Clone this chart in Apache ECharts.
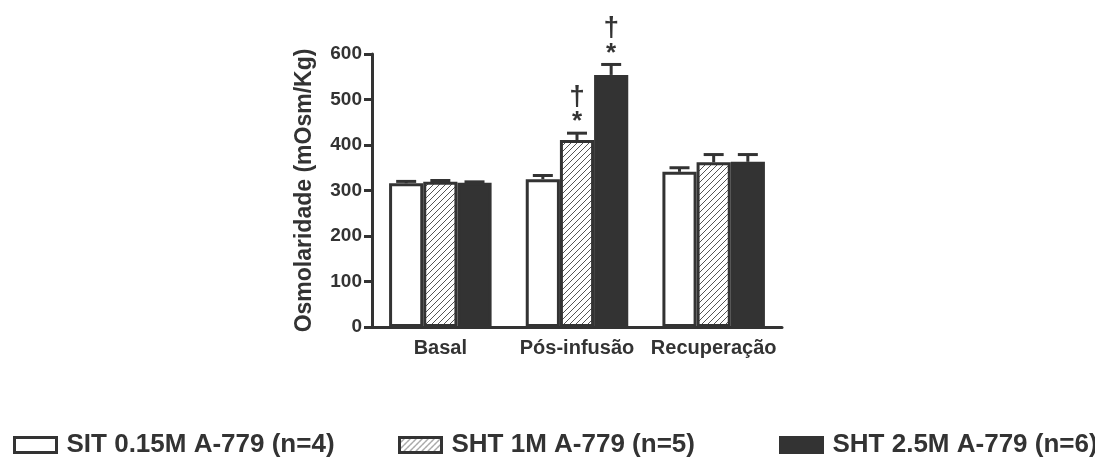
<!DOCTYPE html>
<html>
<head>
<meta charset="utf-8">
<script src="https://cdn.jsdelivr.net/npm/echarts@6/dist/echarts.min.js"></script>
<style>
  html, body { margin: 0; padding: 0; background: #fff; }
  #chart { width: 1095px; height: 457px; }
</style>
</head>
<body>
<div id="chart"></div>
<script>
// Osmolality per phase, mean and SEM for each infusion group
const categories = ['Basal', 'Pós-infusão', 'Recuperação'];
const seriesNames = ['SIT 0.15M A-779 (n=4)', 'SHT 1M A-779 (n=5)', 'SHT 2.5M A-779 (n=6)'];
const sitMean = [316, 325, 341];
const sitSem = [4, 8, 9];
const sht1Mean = [319, 411, 362];
const sht1Sem = [3, 15, 17];
const sht25Mean = [317, 554, 363];
const sht25Sem = [2, 23, 16];
// significance marks drawn above the error bars ('*' then '†' going up)
const sitMarks = ['', '', ''];
const sht1Marks = ['', '*†', ''];
const sht25Marks = ['', '*†', ''];
const yTicks = [0, 100, 200, 300, 400, 500, 600];

const INK = '#333333';
const FONT = '"Liberation Sans", Arial, Helvetica, sans-serif';

// diagonal hatch tile used by the 1M group
function hatchPattern() {
  const s = 6;
  const c = document.createElement('canvas');
  c.width = s; c.height = s;
  const g = c.getContext('2d');
  g.fillStyle = '#ffffff';
  g.fillRect(0, 0, s, s);
  g.strokeStyle = '#555555';
  g.lineWidth = 1;
  g.beginPath();
  g.moveTo(0, s); g.lineTo(s, 0);
  g.moveTo(-1, 1); g.lineTo(1, -1);
  g.moveTo(s - 1, s + 1); g.lineTo(s + 1, s - 1);
  g.stroke();
  return { image: c, repeat: 'repeat' };
}

const means = [sitMean, sht1Mean, sht25Mean];
const sems = [sitSem, sht1Sem, sht25Sem];
const marks = [sitMarks, sht1Marks, sht25Marks];
const fills = ['#ffffff', hatchPattern(), INK];

const errData = [];
const errMarks = [];
for (let k = 0; k < 3; k++) {
  for (let i = 0; i < categories.length; i++) {
    errData.push([i, means[k][i], sems[k][i], k]);
    errMarks.push(marks[k][i]);
  }
}

const barSeries = seriesNames.map((name, k) => ({
  name: name,
  type: 'bar',
  data: means[k],
  barGap: '0%',
  barCategoryGap: '25%',
  itemStyle: { color: fills[k], borderColor: INK, borderWidth: 3 },
  emphasis: { disabled: true },
  animation: false,
  z: 2
}));

const errorSeries = {
  type: 'custom',
  data: errData,
  z: 5,
  silent: true,
  animation: false,
  clip: false,
  renderItem: function (params, api) {
    const cat = api.value(0), v = api.value(1), e = api.value(2), k = api.value(3);
    const band = api.size([1, 0])[0];
    const barW = band * 0.25;
    const x = api.coord([cat, v])[0] + (k - 1) * barW;
    const yBase = api.coord([cat, v])[1];
    const yTop = api.coord([cat, v + e])[1];
    const cap = 20;
    const children = [
      { type: 'line', shape: { x1: x, y1: yBase, x2: x, y2: yTop }, style: { stroke: INK, lineWidth: 3 } },
      { type: 'line', shape: { x1: x - cap / 2, y1: yTop, x2: x + cap / 2, y2: yTop }, style: { stroke: INK, lineWidth: 3 } }
    ];
    const m = errMarks[params.dataIndex];
    if (m) {
      const offs = [11, 36];
      const sizes = [26, 28];
      for (let j = 0; j < m.length; j++) {
        children.push({
          type: 'text',
          x: x, y: yTop - offs[j],
          style: {
            text: m[j], fill: INK, font: 'bold ' + sizes[j] + 'px ' + FONT,
            align: 'center', verticalAlign: 'middle'
          }
        });
      }
    }
    return { type: 'group', children: children };
  }
};

const legendLefts = [13, 398, 779];
const legends = seriesNames.map((name, k) => ({
  data: [{ name: name, icon: 'rect' }],
  left: legendLefts[k],
  top: 432,
  padding: 0,
  itemWidth: 42,
  itemHeight: 15,
  selectedMode: false,
  itemStyle: { borderWidth: 3, borderColor: INK },
  textStyle: { fontFamily: FONT, fontWeight: 'bold', fontSize: 26, color: INK, padding: [0, 0, 0, 5] }
}));

const chart = echarts.init(document.getElementById('chart'), null, { renderer: 'canvas' });
chart.setOption({
  backgroundColor: '#ffffff',
  animation: false,
  textStyle: { fontFamily: FONT },
  legend: legends,
  grid: { left: 372, right: 313, top: 54, bottom: 130, containLabel: false },
  xAxis: {
    type: 'category',
    data: categories,
    axisLine: { lineStyle: { color: INK, width: 3 } },
    axisTick: { show: false },
    axisLabel: { interval: 0, color: INK, fontWeight: 'bold', fontSize: 20, fontFamily: FONT, margin: 11 }
  },
  yAxis: {
    type: 'value',
    min: yTicks[0],
    max: yTicks[yTicks.length - 1],
    interval: yTicks[1] - yTicks[0],
    name: 'Osmolaridade (mOsm/Kg)',
    nameLocation: 'middle',
    nameGap: 56,
    nameTextStyle: { color: INK, fontWeight: 'bold', fontSize: 23, fontFamily: FONT },
    axisLine: { show: true, lineStyle: { color: INK, width: 3 } },
    axisTick: { show: true, length: 8, lineStyle: { color: INK, width: 3 } },
    axisLabel: { color: INK, fontWeight: 'bold', fontSize: 19, fontFamily: FONT, margin: 10 },
    splitLine: { show: false }
  },
  series: barSeries.concat([errorSeries])
});
</script>
</body>
</html>
